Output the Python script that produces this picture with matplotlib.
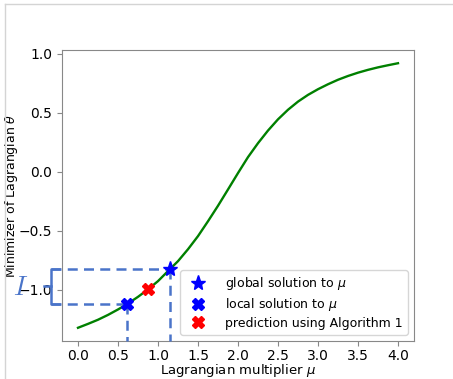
import numpy as np
import matplotlib
matplotlib.use("Agg")
import matplotlib.pyplot as plt
from matplotlib.lines import Line2D

# curve
mu = [0.0, 0.125, 0.25, 0.375, 0.5, 0.625, 0.75, 0.875, 1.0, 1.125, 1.25,
      1.375, 1.5, 1.625, 1.75, 1.875, 2.0, 2.125, 2.25, 2.375, 2.5, 2.625,
      2.75, 2.875, 3.0, 3.125, 3.25, 3.375, 3.5, 3.625, 3.75, 3.875, 4.0]
theta = [-1.32, -1.287, -1.252, -1.211, -1.165, -1.115, -1.058, -0.995,
         -0.925, -0.84, -0.756, -0.655, -0.544, -0.418, -0.287, -0.149,
         -0.01, 0.125, 0.243, 0.35, 0.445, 0.526, 0.595, 0.652, 0.70,
         0.742, 0.78, 0.812, 0.84, 0.864, 0.885, 0.903, 0.92]

# special points
global_pt = (1.15, -0.82)
local_pt = (0.61, -1.12)
pred_pt = (0.88, -0.99)

xticks = [0.0, 0.5, 1.0, 1.5, 2.0, 2.5, 3.0, 3.5, 4.0]
yticks = [-1.0, -0.5, 0.0, 0.5, 1.0]

DASH = '#4a74c9'

plt.rcParams['font.size'] = 9
plt.rcParams['xtick.labelsize'] = 10
plt.rcParams['ytick.labelsize'] = 10

fig = plt.figure(figsize=(4.53, 3.79), dpi=100)
fig.subplots_adjust(left=62/453, right=414/453, bottom=1-341/379, top=1-50/379)
ax = fig.add_subplot(111)

ax.plot(mu, theta, color='green', lw=1.7)

ax.plot(*global_pt, '*', color='blue', ms=11, ls='none', label=r'global solution to $\mu$', zorder=5)
ax.plot(*local_pt, 'X', color='blue', ms=9, ls='none', label=r'local solution to $\mu$', zorder=5)
ax.plot(*pred_pt, 'X', color='red', ms=9, ls='none', label='prediction using Algorithm 1', zorder=5)

ax.set_xlim(-0.2, 4.2)
ax.set_ylim(-1.432, 1.032)
ax.set_xticks(xticks)
ax.set_yticks(yticks)

# dashed guides (go outside the axes on the left)
ylo = ax.get_ylim()[0]
bx = -0.335
for (px, py) in [global_pt, local_pt]:
    ax.plot([bx, px], [py, py], ls=(0, (4, 2.5)), color=DASH, lw=1.8, clip_on=False, zorder=3)
    ax.plot([px, px], [py, ylo], ls=(0, (4, 2.5)), color=DASH, lw=1.8, clip_on=False, zorder=3)

# bracket marking the interval I
top, bot = global_pt[1], local_pt[1]
mid = (top + bot) / 2
ax.plot([bx + 0.1, bx, bx, bx + 0.1], [top, top, bot, bot], color=DASH, lw=1.8,
        clip_on=False, zorder=4, solid_joinstyle='round')
ax.plot([bx, bx - 0.085], [mid, mid], color=DASH, lw=1.8, clip_on=False, zorder=4)
ax.text(-0.72, mid - 0.01, '$I$', fontsize=19, math_fontfamily='cm', color=DASH,
        ha='center', va='center', clip_on=False)

ax.set_xlabel(r'Lagrangian multiplier $\mu$', fontsize=9.5, labelpad=-1)
ax.set_ylabel(r'Minimizer of Lagrangian $\theta$', labelpad=-1)

for s in ax.spines.values():
    s.set_color('#888888')
ax.tick_params(color='#888888')
ax.tick_params(axis='x', pad=2.5)

ax.legend(loc='lower right', handletextpad=1.2, labelspacing=0.3, fontsize=9)

# thin frame around the picture
fig.add_artist(Line2D([5/453, 5/453], [0, 1 - 4/379], transform=fig.transFigure, color='#d4d4d4', lw=1))
fig.add_artist(Line2D([5/453, 1], [1 - 4/379, 1 - 4/379], transform=fig.transFigure, color='#d4d4d4', lw=1))

fig.savefig('out.png', dpi=100)
